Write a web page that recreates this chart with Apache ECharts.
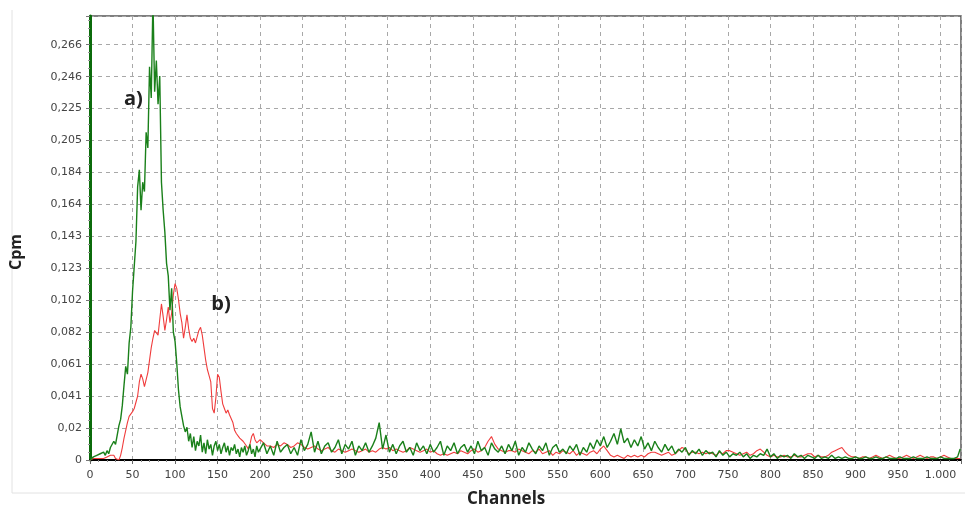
<!DOCTYPE html>
<html>
<head>
<meta charset="utf-8">
<script src="https://cdn.jsdelivr.net/npm/echarts@6/dist/echarts.min.js"></script>
<style>
  html, body { margin: 0; padding: 0; background: #fff; }
  #chart { width: 965px; height: 512px; }
</style>
</head>
<body>
<div id="chart"></div>
<script>
// axis ticks
const yStep = 0.02047
const yMax = 0.2845
const yTickLabels = ['0', '0,02', '0,041', '0,061', '0,082', '0,102', '0,123', '0,143', '0,164', '0,184', '0,205', '0,225', '0,246', '0,266']
const xStep = 50
const xMax = 1024
const xTickLabels = ['0', '50', '100', '150', '200', '250', '300', '350', '400', '450', '500',
  '550', '600', '650', '700', '750', '800', '850', '900', '950', '1.000']

// peak region: channels 0..198, every 2 channels
const peakStart = 0
const peakStep = 2
const greenPeak = [
  0, 0.001, 0.002, 0.001, 0.003, 0.002, 0.004, 0.003, 0.005, 0.003,
  0.006, 0.004, 0.008, 0.007, 0.012, 0.010, 0.016, 0.022, 0.026, 0.035,
  0.048, 0.060, 0.055, 0.075, 0.085, 0.108, 0.124, 0.140, 0.175, 0.186,
  0.160, 0.178, 0.172, 0.210, 0.200, 0.252, 0.232, 0.295, 0.236, 0.256,
  0.228, 0.246, 0.178, 0.160, 0.146, 0.126, 0.118, 0.096, 0.110, 0.082,
  0.076, 0.062, 0.045, 0.034, 0.028, 0.022, 0.018, 0.021, 0.012, 0.017,
  0.008, 0.015, 0.006, 0.012, 0.009, 0.016, 0.005, 0.011, 0.004, 0.013,
  0.007, 0.010, 0.003, 0.009, 0.012, 0.006, 0.010, 0.004, 0.008, 0.011,
  0.005, 0.009, 0.003, 0.008, 0.006, 0.010, 0.004, 0.007, 0.002, 0.008,
  0.005, 0.009, 0.003, 0.006, 0.010, 0.004, 0.007, 0.002, 0.009, 0.005
]
const redPeak = [
  0, 0, 0.001, 0, 0.001, 0.002, 0.001, 0, 0.001, 0,
  0.002, 0.001, 0.003, 0.004, 0.003, 0.001, 0, 0, 0.003, 0.008,
  0.014, 0.019, 0.024, 0.028, 0.027, 0.031, 0.033, 0.037, 0.041, 0.050,
  0.055, 0.052, 0.047, 0.048, 0.056, 0.064, 0.072, 0.078, 0.083, 0.082,
  0.080, 0.090, 0.100, 0.092, 0.083, 0.090, 0.098, 0.088, 0.094, 0.106,
  0.113, 0.110, 0.103, 0.094, 0.088, 0.078, 0.085, 0.093, 0.084, 0.078,
  0.076, 0.078, 0.075, 0.076, 0.083, 0.085, 0.080, 0.072, 0.064, 0.058,
  0.054, 0.050, 0.033, 0.030, 0.040, 0.055, 0.053, 0.044, 0.036, 0.033,
  0.030, 0.032, 0.029, 0.030, 0.024, 0.019, 0.017, 0.016, 0.014, 0.015,
  0.012, 0.011, 0.009, 0.007, 0.010, 0.015, 0.017, 0.013, 0.011, 0.010
]

// tail: channels 200..1020, every 4 channels
const tailStart = 200
const tailStep = 4
const greenTail = [
  0.006, 0.011, 0.004, 0.009, 0.003, 0.012, 0.005, 0.008, 0.010, 0.004,
  0.008, 0.003, 0.013, 0.006, 0.010, 0.018, 0.005, 0.012, 0.004, 0.009,
  0.011, 0.005, 0.008, 0.013, 0.004, 0.010, 0.007, 0.012, 0.003, 0.009,
  0.006, 0.011, 0.005, 0.009, 0.014, 0.024, 0.007, 0.016, 0.005, 0.010,
  0.004, 0.009, 0.012, 0.005, 0.008, 0.003, 0.011, 0.006, 0.009, 0.004,
  0.010, 0.005, 0.008, 0.012, 0.003, 0.009, 0.006, 0.011, 0.004, 0.008,
  0.010, 0.005, 0.009, 0.004, 0.012, 0.006, 0.008, 0.003, 0.011, 0.007,
  0.005, 0.009, 0.004, 0.010, 0.006, 0.012, 0.003, 0.008, 0.005, 0.011,
  0.007, 0.004, 0.009, 0.006, 0.011, 0.003, 0.008, 0.010, 0.005, 0.007,
  0.004, 0.009, 0.006, 0.010, 0.003, 0.008, 0.005, 0.011, 0.007, 0.013,
  0.009, 0.015, 0.008, 0.012, 0.017, 0.010, 0.020, 0.011, 0.014, 0.008,
  0.013, 0.009, 0.015, 0.007, 0.011, 0.006, 0.012, 0.008, 0.005, 0.010,
  0.006, 0.009, 0.004, 0.007, 0.005, 0.008, 0.003, 0.006, 0.004, 0.007,
  0.003, 0.006, 0.004, 0.005, 0.002, 0.006, 0.003, 0.005, 0.002, 0.004,
  0.003, 0.005, 0.002, 0.004, 0.001, 0.003, 0.002, 0.004, 0.003, 0.007,
  0.002, 0.004, 0.001, 0.003, 0.002, 0.003, 0.001, 0.004, 0.002, 0.003,
  0.001, 0.003, 0.002, 0.001, 0.003, 0.001, 0.002, 0.001, 0.003, 0.001,
  0.002, 0.001, 0.002, 0.001, 0.001, 0.002, 0.001, 0.001, 0.002, 0.001,
  0.001, 0.002, 0.001, 0.001, 0.002, 0.001, 0.001, 0.001, 0.002, 0.001,
  0.001, 0.001, 0.002, 0.001, 0.001, 0.001, 0.002, 0.001, 0.001, 0.001,
  0.002, 0.001, 0.001, 0.001, 0.001, 0.002
]
const redTail = [
  0.013, 0.011, 0.009, 0.009, 0.008, 0.010, 0.009, 0.011, 0.010, 0.008,
  0.009, 0.011, 0.010, 0.008, 0.007, 0.008, 0.009, 0.007, 0.006, 0.007,
  0.008, 0.006, 0.005, 0.007, 0.006, 0.005, 0.006, 0.007, 0.006, 0.005,
  0.006, 0.007, 0.005, 0.006, 0.005, 0.007, 0.008, 0.007, 0.008, 0.006,
  0.007, 0.006, 0.005, 0.006, 0.008, 0.007, 0.006, 0.005, 0.006, 0.007,
  0.005, 0.006, 0.004, 0.003, 0.004, 0.003, 0.004, 0.005, 0.004, 0.006,
  0.005, 0.004, 0.006, 0.007, 0.005, 0.006, 0.008, 0.012, 0.015, 0.010,
  0.007, 0.006, 0.005, 0.006, 0.006, 0.005, 0.007, 0.006, 0.005, 0.004,
  0.006, 0.005, 0.007, 0.004, 0.005, 0.006, 0.003, 0.005, 0.004, 0.006,
  0.005, 0.004, 0.006, 0.003, 0.005, 0.004, 0.003, 0.005, 0.006, 0.004,
  0.007, 0.009, 0.006, 0.003, 0.002, 0.003, 0.002, 0.001, 0.003, 0.002,
  0.003, 0.002, 0.003, 0.002, 0.004, 0.005, 0.005, 0.004, 0.003, 0.004,
  0.005, 0.003, 0.004, 0.006, 0.008, 0.007, 0.004, 0.005, 0.005, 0.004,
  0.005, 0.004, 0.005, 0.004, 0.003, 0.005, 0.004, 0.006, 0.006, 0.005,
  0.004, 0.003, 0.004, 0.005, 0.003, 0.004, 0.006, 0.007, 0.005, 0.003,
  0.002, 0.003, 0.002, 0.002, 0.003, 0.002, 0.002, 0.003, 0.002, 0.002,
  0.003, 0.004, 0.004, 0.002, 0.003, 0.002, 0.002, 0.003, 0.005, 0.006,
  0.007, 0.008, 0.005, 0.003, 0.002, 0.002, 0.001, 0.002, 0.002, 0.001,
  0.002, 0.003, 0.002, 0.001, 0.002, 0.003, 0.002, 0.001, 0.001, 0.002,
  0.003, 0.002, 0.001, 0.002, 0.003, 0.002, 0.001, 0.002, 0.002, 0.001,
  0.002, 0.003, 0.002, 0.001, 0.001, 0.001
]
// last channel
const lastChannel = 1023
const greenLast = 0.007
const redLast = 0.001

// annotation anchors [channel, cpm]
const labelA = [51, 0.231]
const labelB = [154, 0.100]

function toPairs(start, step, vals) {
  return vals.map(function(v, i) { return [start + i * step, v] })
}

const greenData = toPairs(peakStart, peakStep, greenPeak)
  .concat(toPairs(tailStart, tailStep, greenTail))
  .concat([[lastChannel, greenLast]])
const redData = toPairs(peakStart, peakStep, redPeak)
  .concat(toPairs(tailStart, tailStep, redTail))
  .concat([[lastChannel, redLast]])

const gridLine = { show: true, lineStyle: { color: '#a8a8a8', type: [4, 4], width: 1 } }
const tickFont = { fontFamily: 'DejaVu Sans', fontSize: 11, color: '#444' }

function note(text, coord) {
  return {
    symbol: 'rect',
    symbolSize: 1,
    itemStyle: { color: 'rgba(0,0,0,0)' },
    label: {
      show: true, position: 'inside', formatter: text,
      fontFamily: 'Open Sans', fontWeight: 'bold', fontSize: 20, color: '#222'
    },
    data: [{ coord: coord }]
  }
}

const myChart = echarts.init(document.getElementById('chart'))
const option = {
  animation: false,
  backgroundColor: '#fff',
  grid: {
    left: 90, right: 4, top: 16, bottom: 52,
    show: true, borderColor: '#555', borderWidth: 1.5
  },
  graphic: [
    { type: 'line', shape: { x1: 12, y1: 10, x2: 12, y2: 493 }, style: { stroke: '#e2e2e2', lineWidth: 1 } },
    { type: 'line', shape: { x1: 12, y1: 493, x2: 965, y2: 493 }, style: { stroke: '#e2e2e2', lineWidth: 1 } },
    {
      type: 'text', left: 467, top: 491,
      style: { text: 'Channels', fontFamily: 'Open Sans', fontWeight: 'bold', fontSize: 17, fill: '#222' }
    },
    {
      type: 'text', x: 8, y: 270, rotation: Math.PI / 2,
      style: { text: 'Cpm', fontFamily: 'Open Sans', fontWeight: 'bold', fontSize: 16, fill: '#222' }
    }
  ],
  xAxis: {
    type: 'value',
    min: 0,
    max: xMax,
    interval: xStep,
    axisLine: { show: true, onZero: false, lineStyle: { color: '#000', width: 2 } },
    axisTick: { show: true, length: 4, lineStyle: { color: '#666' } },
    minorTick: { show: true, splitNumber: 5, length: 2, lineStyle: { color: '#888' } },
    splitLine: gridLine,
    axisLabel: Object.assign({
      showMaxLabel: false,
      margin: 10,
      formatter: function(v) { return xTickLabels[Math.round(v / xStep)] }
    }, tickFont)
  },
  yAxis: {
    type: 'value',
    min: 0,
    max: yMax,
    interval: yStep,
    axisLine: { show: true, lineStyle: { color: '#0b6b0b', width: 3 } },
    axisTick: { show: true, length: 4, lineStyle: { color: '#777' } },
    minorTick: { show: true, splitNumber: 4, length: 2, lineStyle: { color: '#999' } },
    splitLine: gridLine,
    axisLabel: Object.assign({
      showMaxLabel: false,
      margin: 8,
      formatter: function(v) { return yTickLabels[Math.round(v / yStep)] }
    }, tickFont)
  },
  series: [
    {
      name: 'b)',
      type: 'line',
      data: redData,
      showSymbol: false,
      sampling: 'none',
      lineStyle: { color: '#f03c3c', width: 1.1 },
      markPoint: note('b)', labelB)
    },
    {
      name: 'a)',
      type: 'line',
      data: greenData,
      showSymbol: false,
      sampling: 'none',
      lineStyle: { color: '#1a801a', width: 1.4 },
      markPoint: note('a)', labelA)
    }
  ]
}
myChart.setOption(option)
</script>
</body>
</html>
